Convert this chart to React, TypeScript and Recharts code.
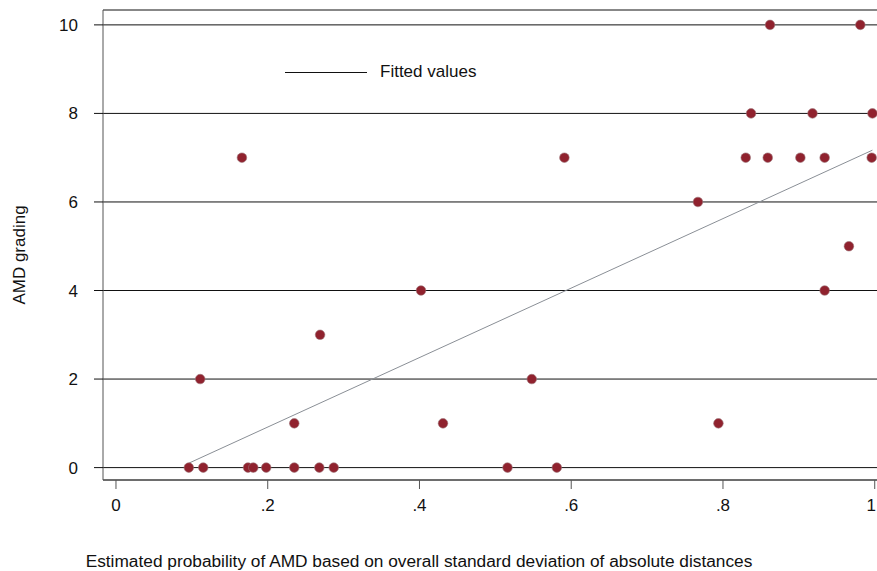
import React from "react";
import {
  CartesianGrid,
  Label,
  Scatter,
  ScatterChart,
  XAxis,
  YAxis,
} from "recharts";

// estimated probability of AMD (x) and AMD grading (y)
const probability = [
  0.096, 0.115, 0.111, 0.166, 0.174, 0.181, 0.198, 0.235, 0.235, 0.268, 0.269,
  0.287, 0.402, 0.431, 0.516, 0.548, 0.581, 0.591, 0.767, 0.794, 0.83, 0.837,
  0.859, 0.862, 0.902, 0.918, 0.934, 0.934, 0.966, 0.981, 0.997, 0.996,
];
const grading = [
  0, 0, 2, 7, 0, 0, 0, 1, 0, 0, 3, 0, 4, 1, 0, 2, 0, 7, 6, 1, 7, 8, 7, 10, 7, 8,
  7, 4, 5, 10, 8, 7,
];

// fitted values line (endpoints)
const fittedX = [0.096, 0.997];
const fittedY = [0.1, 7.17];

const xTicks = [0, 0.2, 0.4, 0.6, 0.8, 1];
const xTickLabels = ["0", ".2", ".4", ".6", ".8", "1"];
const yTicks = [0, 2, 4, 6, 8, 10];

const points = probability.map((x, i) => ({ x, y: grading[i] }));
const fitted = fittedX.map((x, i) => ({ x, y: fittedY[i] }));

const font = "'Liberation Sans', Arial, Helvetica, sans-serif";

// last label sits on the right edge, so anchor it at its end
function XTick(props: any) {
  const { x, y, payload, index } = props;
  const last = index === xTicks.length - 1;
  return (
    <text
      x={last ? Math.min(x + 2, 876) : x}
      y={y}
      dy="0.71em"
      textAnchor={last ? "end" : "middle"}
      fontSize={17}
      fontFamily={font}
      fill="#111"
    >
      {xTickLabels[index] ?? String(payload.value)}
    </text>
  );
}

export default function App() {
  return (
    <div
      style={{
        position: "absolute",
        left: 0,
        top: 0,
        width: 877,
        height: 571,
        background: "#fff",
        fontFamily: font,
      }}
    >
      <ScatterChart
        width={877}
        height={571}
        margin={{ top: 10, right: 0, bottom: 0, left: 0 }}
      >
        <CartesianGrid
          horizontal={true}
          vertical={false}
          stroke="#111"
          strokeWidth={1}
        />
        <XAxis
          type="number"
          dataKey="x"
          domain={[-0.0171, 1.003]}
          allowDataOverflow
          ticks={xTicks}
          interval={0}
          height={91}
          tickSize={9}
          tickMargin={10}
          stroke="#555"
          tick={<XTick />}
        >
          <Label
            content={() => (
              <text
                x={419}
                y={567}
                textAnchor="middle"
                fontSize={17.3}
                fontFamily={font}
                fill="#111"
              >
                Estimated probability of AMD based on overall standard deviation of absolute distances
              </text>
            )}
          />
        </XAxis>
        <YAxis
          type="number"
          dataKey="y"
          domain={[-0.28, 10.336]}
          allowDataOverflow
          ticks={yTicks}
          interval={0}
          width={103}
          tickSize={9}
          tickMargin={16}
          stroke="#555"
          tickLine={{ stroke: "#111" }}
          tick={{ fill: "#111", fontSize: 17, fontFamily: font }}
        >
          <Label
            content={() => (
              <text
                x={25}
                y={255}
                transform="rotate(-90 25 255)"
                textAnchor="middle"
                fontSize={17}
                fontFamily={font}
                fill="#111"
              >
                AMD grading
              </text>
            )}
          />
        </YAxis>
        <Scatter
          name="Fitted values"
          data={fitted}
          line={{ stroke: "#8a8f96", strokeWidth: 1 }}
          lineType="joint"
          shape={() => <g />}
          isAnimationActive={false}
        />
        <Scatter
          data={points}
          isAnimationActive={false}
          shape={(p: any) => (
            <circle
              cx={p.cx}
              cy={p.cy}
              r={4.8}
              fill="#90222e"
              stroke="#9c7478"
              strokeWidth={0.6}
            />
          )}
        />
      </ScatterChart>
      <div
        style={{
          position: "absolute",
          left: 285,
          top: 61,
          display: "flex",
          alignItems: "center",
          height: 22,
          fontSize: 17,
          color: "#111",
          whiteSpace: "nowrap",
        }}
      >
        <span
          style={{
            display: "inline-block",
            width: 82,
            height: 0,
            borderTop: "1px solid #111",
            marginRight: 13,
          }}
        />
        <span>Fitted values</span>
      </div>
    </div>
  );
}
